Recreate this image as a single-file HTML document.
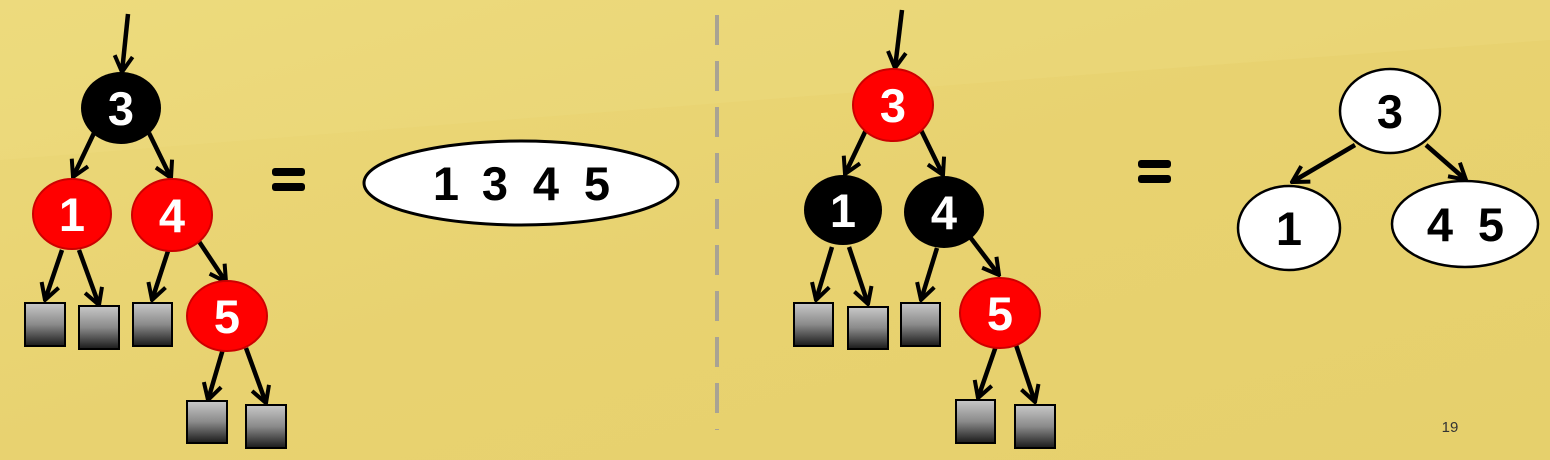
<!DOCTYPE html>
<html><head><meta charset="utf-8"><style>
html,body{margin:0;padding:0;width:1550px;height:460px;overflow:hidden;background:#e8d470}
text{font-family:"Liberation Sans",sans-serif;font-weight:bold}
</style></head><body>
<svg width="1550" height="460" xmlns="http://www.w3.org/2000/svg">
<defs>
<linearGradient id="bg" x1="0" y1="0" x2="1" y2="1">
<stop offset="0" stop-color="#ecd97a"/><stop offset="0.5" stop-color="#e8d270"/><stop offset="1" stop-color="#e6d06c"/></linearGradient>
<linearGradient id="sq" x1="0" y1="0" x2="0" y2="1">
<stop offset="0" stop-color="#c8c8c8"/><stop offset="0.5" stop-color="#8a8a8a"/><stop offset="1" stop-color="#1a1a1a"/></linearGradient>
<marker id="ah2" markerWidth="22" markerHeight="22" refX="20" refY="11" orient="auto" markerUnits="userSpaceOnUse">
<path d="M4,2 L20,11 L4,20" fill="none" stroke="#000" stroke-width="4"/></marker>
</defs>
<rect width="1550" height="460" fill="url(#bg)"/>
<path d="M0,0 H1550 V40 Q1000,80 0,160 Z" fill="#f0de84" opacity="0.3"/>

<g stroke="#000" stroke-width="4.5" fill="none" marker-end="url(#ah2)">
<line x1="128" y1="14" x2="122" y2="72"/>
<line x1="94" y1="133" x2="73" y2="177"/>
<line x1="149" y1="133" x2="171" y2="178"/>
<line x1="62" y1="250" x2="45" y2="300"/>
<line x1="79" y1="250" x2="99" y2="305"/>
<line x1="168" y1="251" x2="152" y2="300"/>
<line x1="198" y1="240" x2="226" y2="282"/>
<line x1="223" y1="349" x2="208" y2="400"/>
<line x1="246" y1="348" x2="266" y2="403"/>

<line x1="902" y1="10" x2="895" y2="68"/>
<line x1="866" y1="130" x2="845" y2="174"/>
<line x1="921" y1="130" x2="943" y2="175"/>
<line x1="832" y1="247" x2="816" y2="300"/>
<line x1="849" y1="247" x2="868" y2="304"/>
<line x1="937" y1="248" x2="921" y2="300"/>
<line x1="970" y1="237" x2="999" y2="275"/>
<line x1="996" y1="346" x2="978" y2="398"/>
<line x1="1016" y1="345" x2="1035" y2="402"/>

<line x1="1355" y1="145" x2="1292" y2="182"/>
<line x1="1426" y1="145" x2="1466" y2="180"/>
</g>

<g stroke="#000" stroke-width="2" fill="url(#sq)">
<rect x="25" y="303" width="40" height="43"/><rect x="79" y="306" width="40" height="43"/>
<rect x="133" y="303" width="39" height="43"/><rect x="187" y="401" width="40" height="42"/>
<rect x="246" y="405" width="40" height="43"/>
<rect x="794" y="303" width="39" height="43"/><rect x="848" y="307" width="40" height="42"/>
<rect x="901" y="303" width="39" height="43"/><rect x="956" y="400" width="39" height="43"/>
<rect x="1015" y="405" width="40" height="43"/>
</g>

<g font-size="47" text-anchor="middle">
<ellipse cx="121" cy="108" rx="40" ry="36" fill="#000"/>
<text x="121" y="125" fill="#fff">3</text>
<ellipse cx="72" cy="214" rx="39" ry="35" fill="#f00" stroke="#c00" stroke-width="2"/>
<text x="72" y="231" fill="#fff">1</text>
<ellipse cx="172" cy="215" rx="40" ry="36" fill="#f00" stroke="#c00" stroke-width="2"/>
<text x="172" y="232" fill="#fff">4</text>
<ellipse cx="227" cy="316" rx="40" ry="35" fill="#f00" stroke="#c00" stroke-width="2"/>
<text x="227" y="333" fill="#fff">5</text>

<ellipse cx="893" cy="105" rx="40" ry="36" fill="#f00" stroke="#c00" stroke-width="2"/>
<text x="893" y="122" fill="#fff">3</text>
<ellipse cx="843" cy="210" rx="39" ry="35" fill="#000"/>
<text x="843" y="227" fill="#fff">1</text>
<ellipse cx="944" cy="212" rx="40" ry="36" fill="#000"/>
<text x="944" y="229" fill="#fff">4</text>
<ellipse cx="1000" cy="313" rx="40" ry="35" fill="#f00" stroke="#c00" stroke-width="2"/>
<text x="1000" y="330" fill="#fff">5</text>

<ellipse cx="521" cy="183" rx="157" ry="42" fill="#fff" stroke="#000" stroke-width="3"/>
<text x="446" y="200" fill="#000">1</text>
<text x="495" y="200" fill="#000">3</text>
<text x="546" y="200" fill="#000">4</text>
<text x="597" y="200" fill="#000">5</text>

<ellipse cx="1390" cy="111" rx="50" ry="42" fill="#fff" stroke="#000" stroke-width="2.5"/>
<text x="1390" y="128" fill="#000">3</text>
<ellipse cx="1289" cy="228" rx="51" ry="42" fill="#fff" stroke="#000" stroke-width="2.5"/>
<text x="1289" y="245" fill="#000">1</text>
<ellipse cx="1465" cy="224" rx="73" ry="43" fill="#fff" stroke="#000" stroke-width="2.5"/>
<text x="1440" y="241" fill="#000">4</text>
<text x="1491" y="241" fill="#000">5</text>
</g>

<g fill="#000">
<rect x="272" y="168" width="33" height="8" rx="3"/><rect x="272" y="183" width="33" height="8" rx="3"/>
<rect x="1138" y="160" width="33" height="8" rx="3"/><rect x="1138" y="175" width="33" height="8" rx="3"/>
</g>
<line x1="717" y1="15" x2="717" y2="430" stroke="#a9a393" stroke-width="4" stroke-dasharray="30,16"/>
<text x="1450" y="432" font-size="15" text-anchor="middle" style="font-weight:normal" fill="#333">19</text>
</svg>
</body></html>
